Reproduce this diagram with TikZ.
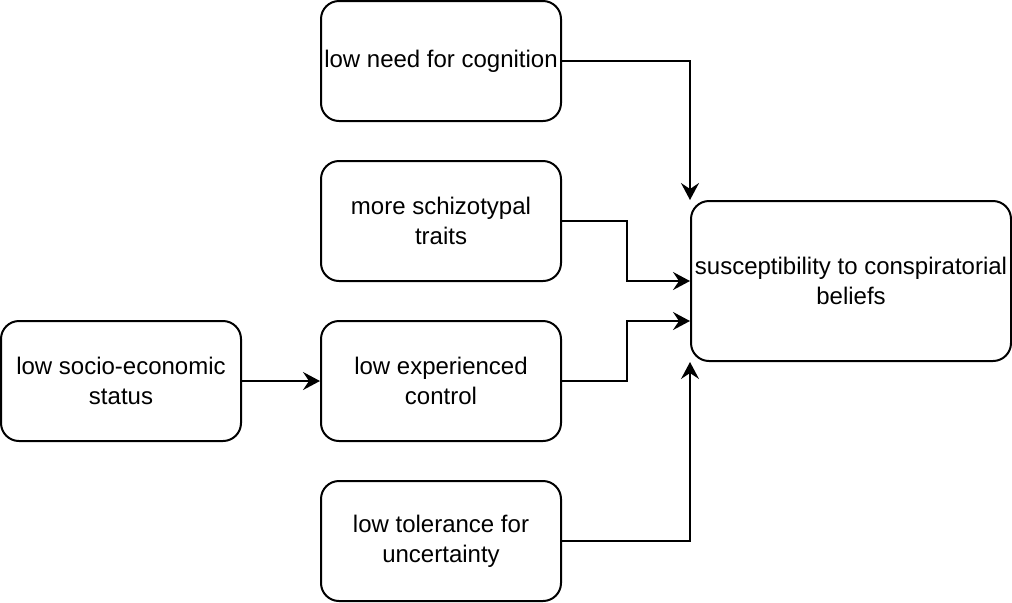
\documentclass[tikz,border=0pt]{standalone}
\usepackage{fontspec}
\setmainfont{Liberation Sans}
\usetikzlibrary{arrows.meta}
\begin{document}
\begin{tikzpicture}[x=0.5pt,y=-0.5pt,>={Stealth[length=8.5pt,width=9pt,inset=3pt]}]
\tikzstyle{every node}=[draw,rounded corners=9pt,line width=1pt,minimum width=120pt,minimum height=60pt,align=center,inner sep=0pt,font=\fontsize{12}{15}\selectfont]
\tikzstyle{link}=[->,line width=1pt]
\useasboundingbox (0,0) rectangle (1012,602);
\node (need) at (441,61) {low need for cognition};
\node (schizo) at (441,221) {more schizotypal\\traits};
\node (control) at (441,381) {low experienced\\control};
\node (tolerance) at (441,541) {low tolerance for\\uncertainty};
\node (socio) at (121,381) {low socio-economic\\status};
\node[minimum width=160pt,minimum height=80pt] (belief) at (851,281) {susceptibility to conspiratorial\\beliefs};
\draw[link] (need.east) -| (belief.north west);
\draw[link] (schizo.east) -- ++(65,0) |- (belief.west);
\draw[link] (control.east) -- ++(65,0) |- ([yshift=-20pt]belief.west);
\draw[link] (tolerance.east) -| (belief.south west);
\draw[link] (socio) -- (control);
\end{tikzpicture}
\end{document}
